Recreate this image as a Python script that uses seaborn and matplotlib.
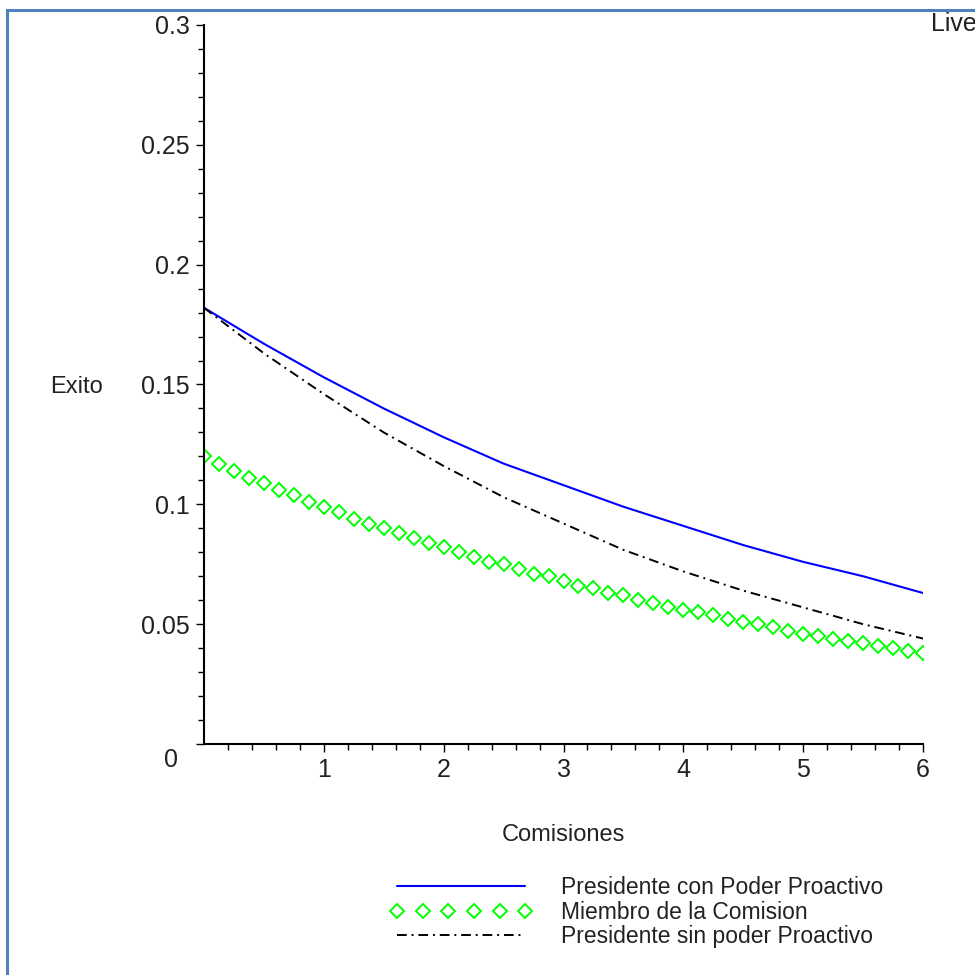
import numpy as np
import pandas as pd
import seaborn as sns
import matplotlib.pyplot as plt
from matplotlib.patches import Rectangle
from matplotlib.transforms import ScaledTranslation

# values (Maple plot)
x_line = [0, 0.5, 1, 1.5, 2, 2.5, 3, 3.5, 4, 4.5, 5, 5.5, 6]
presidente_con = [0.182, 0.167, 0.153, 0.140, 0.128, 0.117, 0.108, 0.099,
                  0.091, 0.083, 0.076, 0.070, 0.063]
presidente_sin = [0.182, 0.163, 0.146, 0.130, 0.116, 0.103, 0.092, 0.081,
                  0.072, 0.064, 0.057, 0.050, 0.044]

x_pts = [0, 0.125, 0.25, 0.375, 0.5, 0.625, 0.75, 0.875, 1.0, 1.125, 1.25,
         1.375, 1.5, 1.625, 1.75, 1.875, 2.0, 2.125, 2.25, 2.375, 2.5, 2.625,
         2.75, 2.875, 3.0, 3.125, 3.25, 3.375, 3.5, 3.625, 3.75, 3.875, 4.0,
         4.125, 4.25, 4.375, 4.5, 4.625, 4.75, 4.875, 5.0, 5.125, 5.25, 5.375,
         5.5, 5.625, 5.75, 5.875, 6.0]
miembro = [0.120, 0.117, 0.114, 0.111, 0.109, 0.106, 0.104, 0.101, 0.099,
           0.097, 0.094, 0.092, 0.090, 0.088, 0.086, 0.084, 0.082, 0.080,
           0.078, 0.076, 0.075, 0.073, 0.071, 0.070, 0.068, 0.066, 0.065,
           0.063, 0.062, 0.060, 0.059, 0.057, 0.056, 0.055, 0.054, 0.052,
           0.051, 0.050, 0.049, 0.047, 0.046, 0.045, 0.044, 0.043, 0.042,
           0.041, 0.040, 0.039, 0.038]

labels = ["Presidente con Poder Proactivo", "Miembro de la Comision",
          "Presidente sin poder Proactivo"]
y_ticks = [0, 0.05, 0.1, 0.15, 0.2, 0.25, 0.3]
y_ticklabels = ["0", "0.05", "0.1", "0.15", "0.2", "0.25", "0.3"]
x_ticks = [1, 2, 3, 4, 5, 6]

sns.set_style("white")
plt.rcParams['font.family'] = ['Liberation Sans', 'DejaVu Sans']

W = 975
fig = plt.figure(figsize=(9.75, 9.75), dpi=100)
ax = fig.add_axes([204 / W, 1 - 744 / W, 719 / W, 719 / W])

sns.lineplot(x=x_line, y=presidente_con, color="#0000ff", lw=1.5,
             label=labels[0], ax=ax)
sns.lineplot(x=x_pts, y=miembro, color="#00ff00", linestyle="", marker="D",
             markersize=6.8, markerfacecolor="none", markeredgecolor="#00ff00",
             markeredgewidth=1.4, label=labels[1], ax=ax)
sns.lineplot(x=x_line, y=presidente_sin, color="black", lw=1.4,
             dashes=False, label=labels[2], ax=ax)
ax.lines[-1].set_dashes((5, 2.5, 1, 2.5))

ax.set_xlim(0, 6)
ax.set_ylim(0, 0.3)
ax.set_xticks(x_ticks)
ax.set_xticks(np.arange(0.2, 6, 0.2), minor=True)
ax.set_yticks(y_ticks)
ax.set_yticklabels(y_ticklabels)
ax.set_yticks(np.arange(0.01, 0.3, 0.01), minor=True)
ax.tick_params(axis="both", which="major", direction="out", length=6,
               width=1, color="black", labelsize=18, pad=4, labelcolor="#222222")
ax.tick_params(axis="both", which="minor", direction="out", length=4,
               width=1, color="black")
ax.tick_params(axis="x", which="both", bottom=True)
ax.tick_params(axis="y", which="both", left=True)

for s in ["top", "right"]:
    ax.spines[s].set_visible(False)
for s in ["left", "bottom"]:
    ax.spines[s].set_color("black")
    ax.spines[s].set_linewidth(1.5)

# the "0" label sits below-left of the origin
zero = ax.get_yticklabels()[0]
zero.set_transform(zero.get_transform() +
                   ScaledTranslation(-8.5 / 72, -10 / 72, fig.dpi_scale_trans))

ax.set_ylabel("Exito", rotation=0, fontsize=17, ha="center", va="center",
              color="#222222")
ax.yaxis.set_label_coords((76 - 204) / 719, 0.497)
ax.set_xlabel("Comisiones", fontsize=17, va="center", color="#222222")
ax.xaxis.set_label_coords(0.5, (744 - 835) / 719)

handles, labs = ax.get_legend_handles_labels()
ax.get_legend().remove()
fig.legend(handles, labs, loc="upper left",
           bbox_to_anchor=(390 / W, 1 - 876 / W), frameon=False,
           fontsize=16.5, handlelength=6.2, handletextpad=1.25,
           labelspacing=0.07, borderpad=0, borderaxespad=0, numpoints=6,
           labelcolor="#222222")

fig.text(931 / W, 1 - 12 / W, "Live", fontsize=18, ha="left", va="top",
         color="#222222")

# blue frame around the picture
fig.patches.append(Rectangle((7 / W, -0.1), 1.1, 1 - 9.5 / W + 0.1,
                             transform=fig.transFigure, fill=False,
                             edgecolor="#4f81bd", lw=2.2))

fig.savefig("out.png", dpi=100)
